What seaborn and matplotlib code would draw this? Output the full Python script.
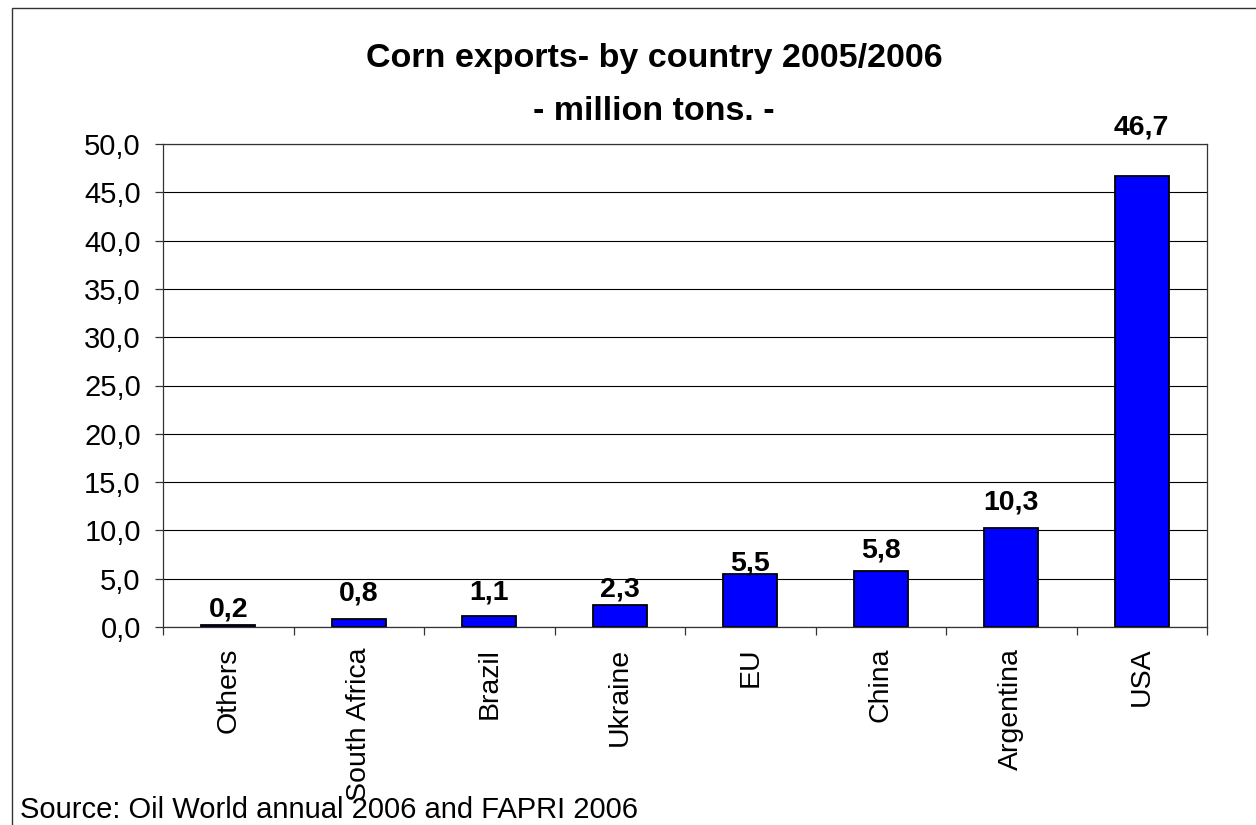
import numpy as np
import pandas as pd
import matplotlib
matplotlib.use("Agg")
import matplotlib.pyplot as plt
import seaborn as sns
from matplotlib.patches import Rectangle
from matplotlib.ticker import FuncFormatter

countries = ["Others", "South Africa", "Brazil", "Ukraine", "EU", "China", "Argentina", "USA"]
exports = [0.2, 0.8, 1.1, 2.3, 5.5, 5.8, 10.3, 46.7]
y_ticks = [0, 5, 10, 15, 20, 25, 30, 35, 40, 45, 50]
title_line1 = "Corn exports- by country 2005/2006"
title_line2 = "- million tons. -"
source_text = "Source: Oil World annual 2006 and FAPRI 2006"

# label offsets above bars (points), styling only
label_offsets = [6.5, 13.7, 12.2, 5.8, 2.2, 10.0, 13.0, 29.5]

sns.set_theme(style="white")
plt.rcParams['font.family'] = ['Liberation Sans', 'DejaVu Sans']
plt.rcParams['text.color'] = 'black'
plt.rcParams['axes.labelcolor'] = 'black'
plt.rcParams['xtick.color'] = 'black'
plt.rcParams['ytick.color'] = 'black'

df = pd.DataFrame({"country": countries, "exports": exports})

fig = plt.figure(figsize=(12.56, 8.25), dpi=100)
fig.patch.set_facecolor("white")
ax = fig.add_axes([163/1256, 1 - 627/825, (1207-163)/1256, (627-144)/825])

sns.barplot(data=df, x="country", y="exports", order=countries, color="#0000FF",
            width=0.41, edgecolor="black", linewidth=1.3, saturation=1, ax=ax)

ax.set_ylim(0, 50)
ax.set_xlim(-0.5, len(countries) - 0.5)
ax.set_yticks(y_ticks)
ax.yaxis.set_major_formatter(FuncFormatter(lambda v, p: f"{v:.1f}".replace(".", ",")))
ax.yaxis.grid(True, color="black", linewidth=0.8)
ax.set_axisbelow(True)
ax.set_xlabel("")
ax.set_ylabel("")

for s in ax.spines.values():
    s.set_color("#333333")
    s.set_linewidth(0.9)
    s.set_visible(True)

ax.tick_params(axis="y", which="major", left=True, length=6, width=0.9, color="#333333",
               labelsize=21, pad=10, labelcolor="black")
ax.tick_params(axis="x", which="major", bottom=False, length=0, labelsize=20.5,
               labelrotation=90, pad=15, labelcolor="black")
ax.set_xticks(np.arange(-0.5, len(countries), 1), minor=True)
ax.tick_params(axis="x", which="minor", bottom=True, length=6, width=0.9, color="#333333")
for lbl in ax.get_xticklabels():
    lbl.set_verticalalignment("top")
    lbl.set_horizontalalignment("center")

for i, (v, off) in enumerate(zip(exports, label_offsets)):
    ax.annotate(f"{v:.1f}".replace(".", ","), xy=(i, v), xytext=(0, off),
                textcoords="offset points", ha="center", va="baseline",
                fontsize=20.5, fontweight="bold", color="black", annotation_clip=False)

fig.text(654/1256, 1 - 67/825, title_line1, ha="center", va="baseline",
         fontsize=24.5, fontweight="bold", color="black")
fig.text(654/1256, 1 - 120/825, title_line2, ha="center", va="baseline",
         fontsize=24.5, fontweight="bold", color="black")
fig.text(20/1256, 1 - 818/825, source_text, ha="left", va="baseline", fontsize=21,
         color="black")

fig.patches.append(Rectangle((12/1256, -0.05), 1.2, 1 - 8/825 + 0.05,
                             transform=fig.transFigure, fill=False,
                             edgecolor="#333333", linewidth=1.0))

fig.savefig("out.png", dpi=100, facecolor="white")
